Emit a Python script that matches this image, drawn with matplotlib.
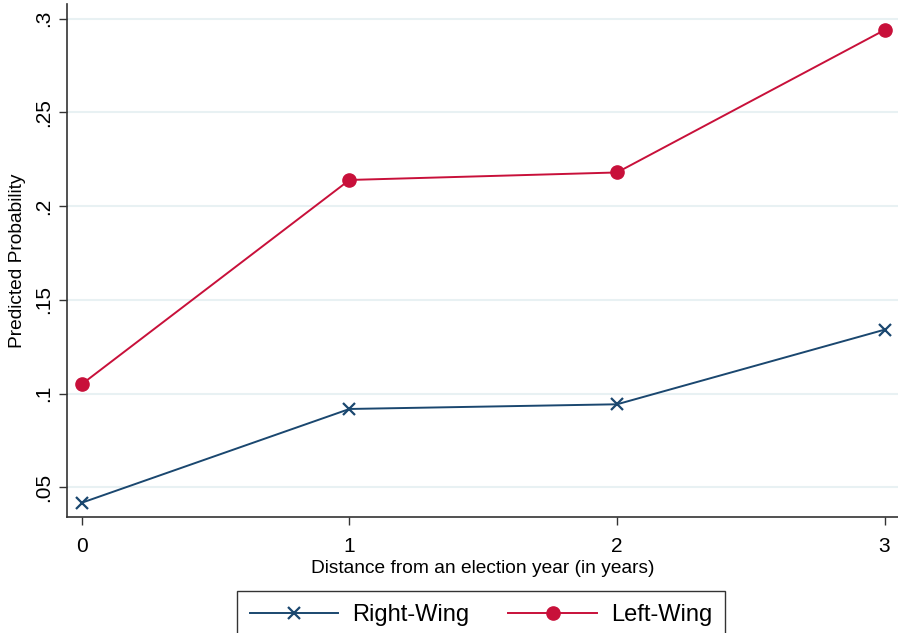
import matplotlib.pyplot as plt

plt.rcParams['font.family'] = ['Liberation Sans', 'DejaVu Sans']

years = [0, 1, 2, 3]
right_wing = [0.0418, 0.0918, 0.0943, 0.1341]
left_wing = [0.1051, 0.2140, 0.2180, 0.2940]
yticks = [0.05, 0.10, 0.15, 0.20, 0.25, 0.30]
ytick_labels = ['.05', '.1', '.15', '.2', '.25', '.3']

fig = plt.figure(figsize=(8.98, 6.33), dpi=100)
ax = fig.add_axes([0.0746, 0.1825, 0.925, 0.8115])

for y in yticks:
    ax.axhline(y, color='#e8f1f3', lw=1.5, zorder=0)

ax.plot(years, right_wing, color='#1a476f', lw=1.4, marker='x', ms=9, mew=1.6, label='Right-Wing')
ax.plot(years, left_wing, color='#c8103a', lw=1.4, marker='o', ms=9.5, label='Left-Wing')

ax.set_xlim(-0.056, 3.049)
ax.set_ylim(0.0339, 0.308)
ax.set_xticks(years)
ax.set_yticks(yticks)
ax.set_yticklabels(ytick_labels, rotation=90, va='center')
ax.tick_params(labelsize=15, length=6, width=1, color='#333333')
ax.tick_params(axis='y', pad=4)
ax.tick_params(axis='x', pad=8)

for side in ['top', 'right']:
    ax.spines[side].set_visible(False)
for side in ['left', 'bottom']:
    ax.spines[side].set_color('#333333')
    ax.spines[side].set_linewidth(1.2)

ax.set_xlabel('Distance from an election year (in years)', fontsize=13.8, labelpad=3)
ax.set_ylabel('Predicted Probability', fontsize=13.8, labelpad=6)

leg = fig.legend(loc='upper center', bbox_to_anchor=(0.5357, 1 - 591 / 633), ncol=2,
                 fontsize=17, frameon=True, fancybox=False, handlelength=3.75,
                 handletextpad=0.6, columnspacing=1.65, borderpad=0.55, borderaxespad=0)
leg.get_frame().set_edgecolor('black')
leg.get_frame().set_linewidth(1.0)

fig.savefig('out.png', dpi=100)
